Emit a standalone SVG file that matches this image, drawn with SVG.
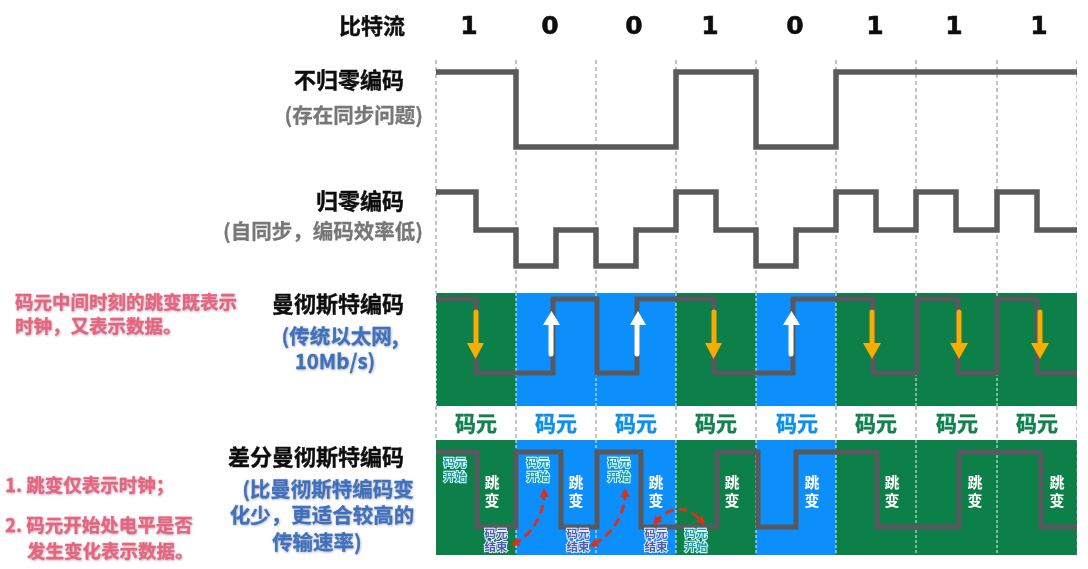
<svg xmlns="http://www.w3.org/2000/svg" width="1088" height="569" viewBox="0 0 1088 569">
<style>
text{font-family:"Noto Sans CJK SC","Liberation Sans",sans-serif;font-weight:700;dominant-baseline:central}
.h{font-size:22px;fill:#111;stroke:#111;stroke-width:.4px;text-anchor:end}
.g{font-size:20.500px;fill:#777;stroke:#777;stroke-width:.3px;text-anchor:end}
.b{font-family:"DejaVu Sans",sans-serif;font-size:25px;fill:#111;stroke:#111;stroke-width:.6px;text-anchor:middle}
.p{font-size:18.500px;fill:#e8647f;stroke:#e8647f;stroke-width:.3px;filter:url(#sh)}
.bl{font-size:20.500px;fill:#3e72bf;stroke:#3e72bf;stroke-width:.3px;text-anchor:middle;filter:url(#sh)}
.cg{font-size:21px;fill:#12804f;stroke:#12804f;stroke-width:.4px;text-anchor:middle}
.cb{font-size:21px;fill:#1090ea;stroke:#1090ea;stroke-width:.4px;text-anchor:middle}
.j{font-size:15px;fill:#fff;text-anchor:middle}
.s{font-size:11.500px;fill:#1c9aa5;stroke:#dff;stroke-width:1.800px;paint-order:stroke;text-anchor:middle}
.e{font-size:11.500px;fill:#4a5fb0;stroke:#eef;stroke-width:1.800px;paint-order:stroke;text-anchor:middle}
.grid{stroke:#888;stroke-width:1;stroke-dasharray:4 3;fill:none}
.wd{stroke:#e8f4f4;stroke-width:1;stroke-dasharray:3 2;fill:none}
.w{stroke:#5a5a5a;stroke-width:5.500;fill:none;stroke-linejoin:miter}
.w2{stroke:#59595f;stroke-width:5;fill:none}
.gr{fill:#0b7f48}.blu{fill:#0a8ffb}
.ar{stroke:#f6ae00;stroke-width:5;stroke-linecap:round;fill:none}
.af{fill:#f6ae00}
.aw{stroke:#fff;stroke-width:5;stroke-linecap:round;fill:none}
.awf{fill:#fff}
.red{stroke:#d8301f;stroke-width:3;stroke-dasharray:9 5;fill:none;marker-start:url(#rs);marker-end:url(#re)}
</style>
<defs>
<filter id="sh" x="-5%" y="-20%" width="110%" height="150%"><feDropShadow dx="0.6" dy="0.8" stdDeviation="0.8" flood-color="#8a8a9a" flood-opacity="0.7"/></filter>
<filter id="soft" x="0" y="0" width="100%" height="100%"><feGaussianBlur stdDeviation="0.45"/></filter>
<marker id="re" markerWidth="10" markerHeight="10" refX="6" refY="4.500" orient="auto" markerUnits="userSpaceOnUse"><path d="M0 0L9 4.500L0 9Z" fill="#d8301f"/></marker>
<marker id="rs" markerWidth="10" markerHeight="10" refX="3" refY="4.500" orient="auto" markerUnits="userSpaceOnUse"><path d="M9 0L0 4.500L9 9Z" fill="#d8301f"/></marker>
</defs>
<g filter="url(#soft)">
<g id="panels">
<rect class="gr" x="436" y="293" width="80" height="113"/><rect class="blu" x="516" y="293" width="160" height="113"/><rect class="gr" x="676" y="293" width="80" height="113"/><rect class="blu" x="756" y="293" width="80" height="113"/><rect class="gr" x="836" y="293" width="241" height="113"/>
<rect class="gr" x="436" y="440" width="80" height="115"/><rect class="blu" x="516" y="440" width="160" height="115"/><rect class="gr" x="676" y="440" width="80" height="115"/><rect class="blu" x="756" y="440" width="80" height="115"/><rect class="gr" x="836" y="440" width="241" height="115"/>
</g>
<g id="grid">
<path class="grid" d="M436 60V293M516 60V293M596 60V293M676 60V293M756 60V293M836 60V293M916 60V293M997 60V293M1077 60V293"/>
<path class="grid" d="M436 406V440M516 406V440M596 406V440M676 406V440M756 406V440M836 406V440M916 406V440M997 406V440M1077 406V440M1077 440V556"/>
<path class="wd" d="M436 293V406M516 293V406M596 293V406M676 293V406M756 293V406M836 293V406M916 293V406M997 293V406M516 440V555M596 440V555M676 440V555M756 440V555M836 440V555M916 440V555M997 440V555"/>
</g>
<g id="waves">
<path class="w" d="M436 72H516V147H676V72H756V147H836V72H1077"/>
<path class="w" d="M436 192H476V230H516V266H556V230H596V266H636V230H676V192H716V230H756V266H796V230H836V192H876V230H916V192H956V230H997V192H1037V230H1077"/>
<path class="w2" d="M436 299H476V373H553V299H597V373H637V299H714V373H793V299H873V373H917V299H958V373H997V299H1037V373H1077"/>
<path class="w2" d="M436 452H477V527H516V452H561V527H597V452H641V527H717V452H758V527H796V452H877V527H959V452H1041V527H1077"/>
</g>
<g id="arrows">
<path class="ar" d="M476 312V344"/><path class="af" d="M467 343H484L475.500 359Z"/>
<path class="ar" d="M714 312V344"/><path class="af" d="M705 343H722L713.500 359Z"/>
<path class="ar" d="M872 312V344"/><path class="af" d="M863 343H881L872 359Z"/>
<path class="ar" d="M959 312V344"/><path class="af" d="M950 343H968L959 359Z"/>
<path class="ar" d="M1040 312V344"/><path class="af" d="M1031 343H1049L1040 359Z"/>
<path class="aw" d="M551 354V325"/><path class="awf" d="M543 325H560L551.500 311Z"/>
<path class="aw" d="M637 354V325"/><path class="awf" d="M630 325H646L638 311Z"/>
<path class="aw" d="M791 354V325"/><path class="awf" d="M783 325H800L791.500 311Z"/>
</g>
<g id="labels">
<text class="h" x="405" y="24">比特流</text>
<text class="h" x="404" y="78">不归零编码</text>
<text class="g" x="423" y="114">(存在同步问题)</text>
<text class="h" x="404" y="199">归零编码</text>
<text class="g" x="423" y="230">(自同步，编码效率低)</text>
<text class="h" x="404" y="302">曼彻斯特编码</text>
<text class="bl" x="340" y="335">(传统以太网,</text>
<text class="bl" x="335" y="360">10Mb/s)</text>
<text class="h" x="404" y="455">差分曼彻斯特编码</text>
<text class="bl"><tspan x="328" y="488">(比曼彻斯特编码变</tspan><tspan x="322" y="514">化少，更适合较高的</tspan><tspan x="317" y="541">传输速率)</tspan></text>
<text class="p"><tspan x="15" y="301">码元中间时刻的跳变既表示</tspan><tspan x="15" y="325">时钟，又表示数据。</tspan></text>
<text class="p" x="5" y="484">1. 跳变仅表示时钟；</text>
<text class="p"><tspan x="5" y="524">2. 码元开始处电平是否</tspan><tspan x="27" y="550">发生变化表示数据。</tspan></text>
</g>
<g id="bits">
<text class="b" x="469" y="25">1</text><text class="b" x="550" y="25">0</text><text class="b" x="634" y="25">0</text><text class="b" x="710" y="25">1</text><text class="b" x="795" y="25">0</text><text class="b" x="875" y="25">1</text><text class="b" x="954" y="25">1</text><text class="b" x="1039" y="25">1</text>
</g>
<g id="symbols">
<text class="cg" x="476" y="422">码元</text><text class="cb" x="556" y="422">码元</text><text class="cb" x="636" y="422">码元</text><text class="cg" x="716" y="422">码元</text><text class="cb" x="797" y="422">码元</text><text class="cg" x="876" y="422">码元</text><text class="cg" x="957" y="422">码元</text><text class="cg" x="1037" y="422">码元</text>
</g>
<g id="transitions">
<text class="j"><tspan x="492" y="481">跳</tspan><tspan x="492" y="499">变</tspan></text>
<text class="j"><tspan x="576" y="481">跳</tspan><tspan x="576" y="499">变</tspan></text>
<text class="j"><tspan x="656" y="481">跳</tspan><tspan x="656" y="499">变</tspan></text>
<text class="j"><tspan x="732" y="481">跳</tspan><tspan x="732" y="499">变</tspan></text>
<text class="j"><tspan x="812" y="481">跳</tspan><tspan x="812" y="499">变</tspan></text>
<text class="j"><tspan x="892" y="481">跳</tspan><tspan x="892" y="499">变</tspan></text>
<text class="j"><tspan x="975" y="481">跳</tspan><tspan x="975" y="499">变</tspan></text>
<text class="j"><tspan x="1057" y="481">跳</tspan><tspan x="1057" y="499">变</tspan></text>
</g>
<g id="notes">
<text class="s"><tspan x="455" y="462">码元</tspan><tspan x="455" y="476">开始</tspan></text>
<text class="s"><tspan x="538" y="462">码元</tspan><tspan x="538" y="476">开始</tspan></text>
<text class="s"><tspan x="619" y="462">码元</tspan><tspan x="619" y="476">开始</tspan></text>
<text class="e"><tspan x="496" y="533">码元</tspan><tspan x="496" y="546">结束</tspan></text>
<text class="e"><tspan x="578" y="533">码元</tspan><tspan x="578" y="546">结束</tspan></text>
<text class="e"><tspan x="656" y="533">码元</tspan><tspan x="656" y="546">结束</tspan></text>
<text class="s"><tspan x="696" y="533">码元</tspan><tspan x="696" y="546">开始</tspan></text>
</g>
<g id="connectors">
<path class="red" d="M544 491C545 515 530 537 513 544"/>
<path class="red" d="M625 491C626 515 610 537 592 545"/>
<path class="red" d="M655 523C665 510 685 500 703 523"/>
</g>
</g>
</svg>
